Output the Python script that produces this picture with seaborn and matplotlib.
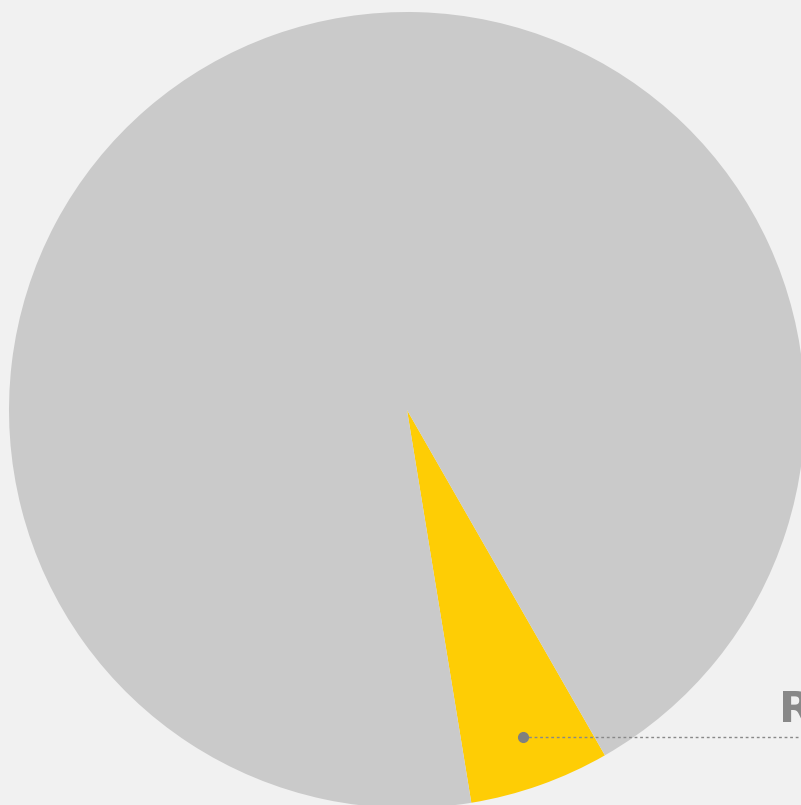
import numpy as np
import matplotlib
matplotlib.use("Agg")
import matplotlib.pyplot as plt
import seaborn as sns

labels = ["Rest", "Highlight"]
values = [94.3, 5.7]
colors = ["#cacaca", "#fecd05"]
label_text = "Rest of the world"

sns.set_theme(style="white")
plt.rcParams["font.family"] = ["Liberation Sans Narrow", "DejaVu Sans"]

W, H = 801, 805
fig = plt.figure(figsize=(W / 100, H / 100), dpi=100, facecolor="#f1f1f1")
cx, cy, R = 407, 410, 398
ax = fig.add_axes([(cx - R) / W, (H - cy - R) / H, 2 * R / W, 2 * R / H])
ax.set_facecolor("#f1f1f1")

start = -80.7
wedges, _ = ax.pie(values[::-1], colors=colors[::-1], startangle=start,
                   counterclock=True, radius=1,
                   wedgeprops=dict(linewidth=0, antialiased=True))
ax.set_xlim(-1, 1)
ax.set_ylim(-1, 1)
ax.axis("off")
for w in wedges:
    w.set_clip_on(False)

hw = wedges[0]
mid = np.deg2rad((hw.theta1 + hw.theta2) / 2)
r = 0.872
px, py = r * np.cos(mid), r * np.sin(mid)
ax.plot([px, 1.3], [py, py], linestyle=(0, (2, 2)), color="#888888",
        linewidth=1, clip_on=False, zorder=3)
ax.plot([px], [py], marker="o", markersize=7, color="#808080",
        clip_on=False, zorder=4)
ax.text(0.935, py + 0.04, label_text, color="#888888", fontsize=31,
        fontweight="bold", ha="left", va="baseline", clip_on=False)

fig.savefig("out.png", dpi=100, facecolor=fig.get_facecolor())
